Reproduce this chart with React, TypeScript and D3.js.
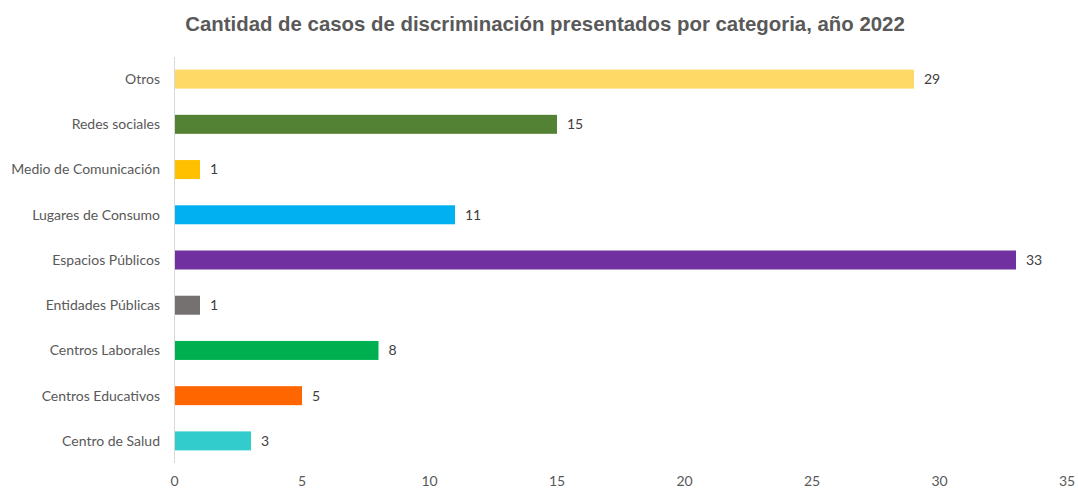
import React, { useEffect, useRef } from "react";
import * as d3 from "d3";

const categories = [
  "Otros",
  "Redes sociales",
  "Medio de Comunicación",
  "Lugares de Consumo",
  "Espacios Públicos",
  "Entidades Públicas",
  "Centros Laborales",
  "Centros Educativos",
  "Centro de Salud",
];
const values = [29, 15, 1, 11, 33, 1, 8, 5, 3];
const colors = [
  "#FFD966",
  "#548235",
  "#FFC000",
  "#00B0F0",
  "#7030A0",
  "#767171",
  "#00B050",
  "#FF6600",
  "#33CCCC",
];
const xTicks = [0, 5, 10, 15, 20, 25, 30, 35];
const title = "Cantidad de casos de discriminación presentados por categoria, año 2022";

const W = 1078;
const H = 489;
const FONT = "Lato, 'Open Sans', sans-serif";

export default function App() {
  const ref = useRef<SVGSVGElement>(null);
  useEffect(() => {
    const svg = d3.select(ref.current);
    svg.selectAll("*").remove();
    const x = d3.scaleLinear().domain([0, 35]).range([174.5, 1067]);
    const y = d3.scaleBand().domain(categories).range([56.5, 463.5]).paddingInner(0.58).paddingOuter(0.29);

    svg
      .append("text")
      .attr("x", 545)
      .attr("y", 31)
      .attr("text-anchor", "middle")
      .attr("font-family", "Arial, 'Liberation Sans', sans-serif")
      .attr("font-weight", "bold")
      .attr("font-size", 20.4)
      .attr("fill", "#595959")
      .text(title);

    const data = categories.map((c, i) => ({ c, v: values[i], col: colors[i] }));

    svg
      .append("g")
      .selectAll("rect")
      .data(data)
      .join("rect")
      .attr("x", x(0))
      .attr("y", (d) => y(d.c)!)
      .attr("width", (d) => x(d.v) - x(0))
      .attr("height", y.bandwidth())
      .attr("fill", (d) => d.col);

    svg
      .append("line")
      .attr("x1", x(0))
      .attr("x2", x(0))
      .attr("y1", 57)
      .attr("y2", 463)
      .attr("stroke", "#D9D9D9")
      .attr("stroke-width", 1);

    svg
      .append("g")
      .selectAll("text")
      .data(data)
      .join("text")
      .attr("x", (d) => x(d.v) + 10)
      .attr("y", (d) => y(d.c)! + y.bandwidth() / 2)
      .attr("dy", "0.35em")
      .attr("font-family", FONT)
      .attr("font-size", 14)
      .attr("fill", "#404040")
      .text((d) => String(d.v));

    svg
      .append("g")
      .selectAll("text")
      .data(data)
      .join("text")
      .attr("x", 160)
      .attr("y", (d) => y(d.c)! + y.bandwidth() / 2)
      .attr("dy", "0.35em")
      .attr("text-anchor", "end")
      .attr("font-family", FONT)
      .attr("font-size", 14)
      .attr("fill", "#595959")
      .text((d) => d.c);

    svg
      .append("g")
      .selectAll("text")
      .data(xTicks)
      .join("text")
      .attr("x", (d) => x(d))
      .attr("y", 486)
      .attr("text-anchor", "middle")
      .attr("font-family", FONT)
      .attr("font-size", 14)
      .attr("fill", "#595959")
      .text((d) => String(d));
  }, []);
  return (
    <svg
      ref={ref}
      width={W}
      height={H}
      style={{ position: "absolute", left: 0, top: 0, background: "#fff" }}
    />
  );
}
